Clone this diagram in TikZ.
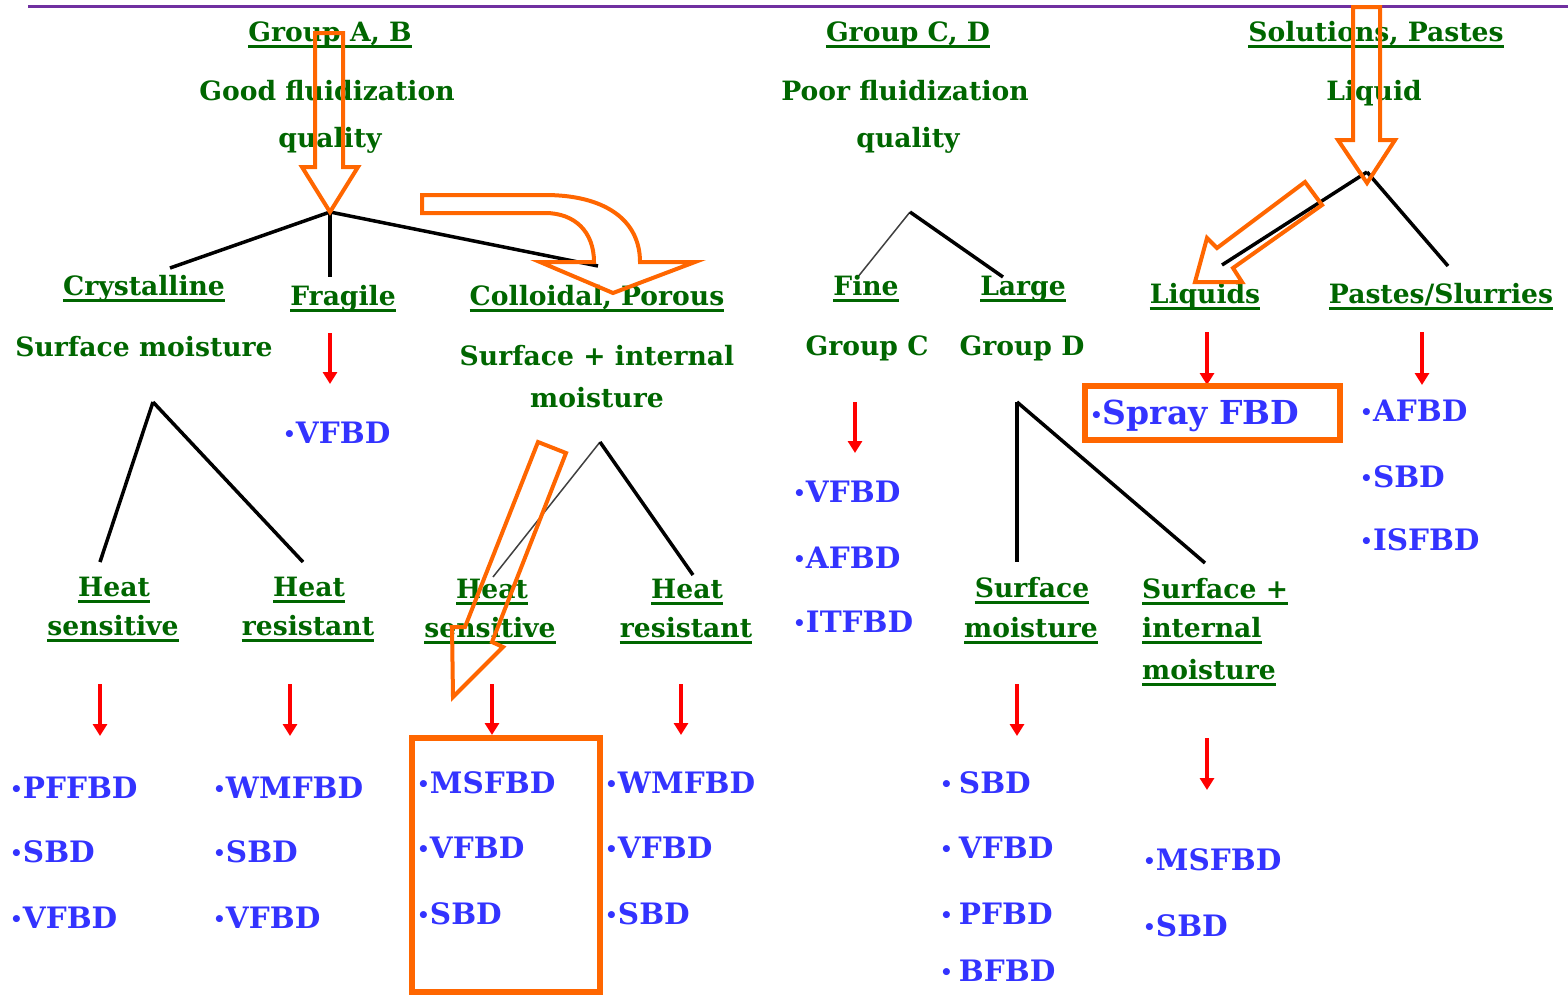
\documentclass[tikz,border=0pt]{standalone}
\usepackage{fontspec}
\setmainfont{DejaVu Serif}
\usetikzlibrary{arrows.meta}
\definecolor{hdgreen}{RGB}{0,102,0}
\definecolor{itemblue}{RGB}{51,51,255}
\definecolor{markorange}{RGB}{255,102,0}
\definecolor{rulepurple}{RGB}{112,48,160}
\newcommand\bul{{\fontsize{20}{20}\selectfont\raisebox{2pt}{•}}}
\tikzset{
  lbl/.style={inner sep=0pt, anchor=base, text=hdgreen,
    font=\fontsize{26.6}{30}\selectfont\bfseries},
  ul/.style={append after command={
    ([yshift=-5pt]\tikzlastnode.base west) edge[draw=hdgreen, line width=3pt]
    ([yshift=-5pt]\tikzlastnode.base east)}},
  itm/.style={inner sep=0pt, anchor=base west, text=itemblue,
    font=\fontsize{29.5}{32}\selectfont\bfseries},
  branch/.style={draw=black, line width=3.5pt},
  twig/.style={draw=black!75, line width=1.5pt},
  redarr/.style={draw=red, line width=3.5pt, -{Triangle[width=14pt,length=12pt]}},
  hollow/.style={draw=markorange, line width=4pt, line join=miter},
  hilite/.style={draw=markorange, line width=5.5pt}
}
\begin{document}
\begin{tikzpicture}[x=1pt,y=-1pt]
\useasboundingbox (0,0) rectangle (1568,994);

% top rule
\coordinate (ruleL) at (28,6);
\coordinate (ruleR) at (1568,6);
\draw[rulepurple, line width=3pt] (ruleL) -- (ruleR);

% ---- branch points and branch ends ----
\coordinate (apAB) at (330,212);
\coordinate (cry) at (170,268);
\coordinate (frg) at (330,277);
\coordinate (col) at (598,266);
\coordinate (apCD) at (910,212);
\coordinate (fin) at (857,278);
\coordinate (lrg) at (1003,277);
\coordinate (apLq) at (1367,172);
\coordinate (lqs) at (1222,265);
\coordinate (pst) at (1448,266);
\coordinate (apCr) at (153,402);
\coordinate (hs1) at (100,562);
\coordinate (hr1) at (303,562);
\coordinate (apCo) at (600,442);
\coordinate (hs2) at (493,577);
\coordinate (hr2) at (693,575);
\coordinate (apLg) at (1017,402);
\coordinate (smo) at (1017,562);
\coordinate (sim) at (1205,563);

\draw[branch] (apAB) -- (cry);
\draw[branch] (apAB) -- (frg);
\draw[branch] (apAB) -- (col);
\draw[twig] (apCD) -- (fin);
\draw[branch] (apCD) -- (lrg);
\draw[branch] (apLq) -- (lqs);
\draw[branch] (apLq) -- (pst);
\draw[branch] (apCr) -- (hs1);
\draw[branch] (apCr) -- (hr1);
\draw[twig] (apCo) -- (hs2);
\draw[branch] (apCo) -- (hr2);
\draw[branch] (apLg) -- (smo);
\draw[branch] (apLg) -- (sim);

% ---- green headings ----
\node[lbl, ul] (gab) at (330,41) {Group A, B};
\node[lbl] (gfq1) at (327,100) {Good fluidization};
\node[lbl] (gfq2) at (330,147) {quality};
\node[lbl, ul] (gcd) at (908,41) {Group C, D};
\node[lbl] (pfq1) at (905,100) {Poor fluidization};
\node[lbl] (pfq2) at (908,147) {quality};
\node[lbl, ul] (sol) at (1376,41) {Solutions, Pastes};
\node[lbl] (liq) at (1374,100) {Liquid};

\node[lbl, ul] (tcry) at (144,295) {Crystalline};
\node[lbl, ul] (tfrg) at (343,305) {Fragile};
\node[lbl, ul] (tcol) at (597,305) {Colloidal, Porous};
\node[lbl] (tsm) at (144,356) {Surface moisture};
\node[lbl] (tsi1) at (597,365) {Surface + internal};
\node[lbl] (tsi2) at (597,407) {moisture};
\node[lbl, ul] (tfin) at (866,295) {Fine};
\node[lbl, ul] (tlrg) at (1023,295) {Large};
\node[lbl] (tgc) at (867,355) {Group C};
\node[lbl] (tgd) at (1022,355) {Group D};
\node[lbl, ul] (tlqs) at (1205,303) {Liquids};
\node[lbl, ul] (tpst) at (1441,303) {Pastes/Slurries};

\node[lbl, ul] (h1a) at (114,596) {Heat};
\node[lbl, ul] (h1b) at (113,635) {sensitive};
\node[lbl, ul] (h2a) at (309,596) {Heat};
\node[lbl, ul] (h2b) at (308,635) {resistant};
\node[lbl, ul] (h3a) at (492,598) {Heat};
\node[lbl, ul] (h3b) at (490,637) {sensitive};
\node[lbl, ul] (h4a) at (687,598) {Heat};
\node[lbl, ul] (h4b) at (686,637) {resistant};
\node[lbl, ul] (s1a) at (1032,597) {Surface};
\node[lbl, ul] (s1b) at (1031,637) {moisture};
\node[lbl, ul, anchor=base west] (s2a) at (1142,598) {Surface +};
\node[lbl, ul, anchor=base west] (s2b) at (1142,637) {internal};
\node[lbl, ul, anchor=base west] (s2c) at (1142,679) {moisture};

% ---- red arrows ----
\coordinate (r1s) at (330,333);  \coordinate (r1e) at (330,384);
\coordinate (r2s) at (855,402);  \coordinate (r2e) at (855,453);
\coordinate (r3s) at (1207,332); \coordinate (r3e) at (1207,385);
\coordinate (r4s) at (1422,332); \coordinate (r4e) at (1422,385);
\coordinate (r5s) at (100,684);  \coordinate (r5e) at (100,736);
\coordinate (r6s) at (290,684);  \coordinate (r6e) at (290,736);
\coordinate (r7s) at (492,684);  \coordinate (r7e) at (492,735);
\coordinate (r8s) at (681,684);  \coordinate (r8e) at (681,735);
\coordinate (r9s) at (1017,684); \coordinate (r9e) at (1017,736);
\coordinate (r10s) at (1207,738); \coordinate (r10e) at (1207,790);
\foreach \k in {1,...,10} \draw[redarr] (r\k s) -- (r\k e);

% ---- blue dryer lists ----
\node[itm] (fv) at (283,443) {\bul VFBD};
\node[itm] (c1) at (793,502) {\bul VFBD};
\node[itm] (c2) at (793,568) {\bul AFBD};
\node[itm] (c3) at (793,632) {\bul ITFBD};
\node[itm, font=\fontsize{33}{36}\selectfont\bfseries] (spr) at (1090,424) {\bul Spray FBD};
\node[itm] (p1) at (1360,421) {\bul AFBD};
\node[itm] (p2) at (1360,487) {\bul SBD};
\node[itm] (p3) at (1360,550) {\bul ISFBD};
\node[itm] (a1) at (10,798) {\bul PFFBD};
\node[itm] (a2) at (10,862) {\bul SBD};
\node[itm] (a3) at (10,928) {\bul VFBD};
\node[itm] (b1) at (213,798) {\bul WMFBD};
\node[itm] (b2) at (213,862) {\bul SBD};
\node[itm] (b3) at (213,928) {\bul VFBD};
\node[itm] (m1) at (417,793) {\bul MSFBD};
\node[itm] (m2) at (417,858) {\bul VFBD};
\node[itm] (m3) at (417,924) {\bul SBD};
\node[itm] (w1) at (605,793) {\bul WMFBD};
\node[itm] (w2) at (605,858) {\bul VFBD};
\node[itm] (w3) at (605,924) {\bul SBD};
\node[itm] (d1) at (940,793) {\bul\hspace{6pt}SBD};
\node[itm] (d2) at (940,858) {\bul\hspace{6pt}VFBD};
\node[itm] (d3) at (940,924) {\bul\hspace{6pt}PFBD};
\node[itm] (d4) at (940,981) {\bul\hspace{6pt}BFBD};
\node[itm] (e1) at (1143,870) {\bul MSFBD};
\node[itm] (e2) at (1143,936) {\bul SBD};

% ---- orange highlight boxes ----
\draw[hilite] (1085,386) rectangle (1340,440);
\draw[hilite] (412,738) rectangle (600,992);

% ---- orange hollow arrows ----
\draw[hollow] (315,33) -- (343,33) -- (343,167) -- (358,167) -- (330,212)
  -- (302,167) -- (315,167) -- cycle;
\draw[hollow] (1353,7) -- (1380,7) -- (1380,140) -- (1395,140) -- (1367,183)
  -- (1338,140) -- (1353,140) -- cycle;
\draw[hollow] (422,195) -- (545,195) .. controls (605,195) and (640,220) .. (640,262)
  -- (695,262) -- (613,293) -- (540,262) -- (594,262)
  .. controls (594,232) and (575,213) .. (545,213) -- (422,213) -- cycle;
\draw[hollow] (1305,182) -- (1322,205) -- (1233,268) -- (1242,282) -- (1195,282)
  -- (1207,238) -- (1217,248) -- cycle;
\draw[hollow] (538,442) -- (566,453) -- (492,642) -- (503,647) -- (453,697)
  -- (452,627) -- (465,627) -- cycle;
\end{tikzpicture}
\end{document}
